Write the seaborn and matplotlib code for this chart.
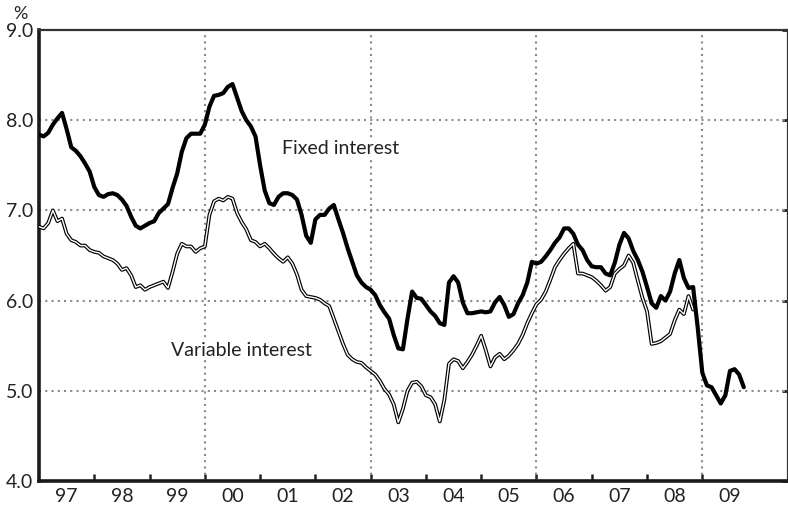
import numpy as np
import pandas as pd
import seaborn as sns
import matplotlib
matplotlib.use("Agg")
from matplotlib import pyplot as plt

# monthly rates, Jan 1997 onwards (%)
fixed_rate = [
    7.84, 7.82, 7.86, 7.95, 8.02, 8.08, 7.90, 7.70, 7.66, 7.60, 7.52, 7.43,   # 97
    7.26, 7.17, 7.15, 7.18, 7.19, 7.17, 7.12, 7.05, 6.93, 6.83, 6.80, 6.83,   # 98
    6.86, 6.88, 6.97, 7.02, 7.07, 7.25, 7.41, 7.65, 7.80, 7.85, 7.85, 7.85,   # 99
    7.95, 8.15, 8.27, 8.28, 8.30, 8.37, 8.40, 8.25, 8.10, 8.00, 7.93, 7.82,   # 00
    7.50, 7.22, 7.08, 7.06, 7.15, 7.19, 7.19, 7.17, 7.12, 6.95, 6.72, 6.64,   # 01
    6.90, 6.95, 6.95, 7.02, 7.06, 6.90, 6.75, 6.58, 6.43, 6.28, 6.20, 6.15,   # 02
    6.12, 6.06, 5.95, 5.87, 5.80, 5.62, 5.47, 5.46, 5.80, 6.10, 6.03, 6.02,   # 03
    5.95, 5.88, 5.83, 5.75, 5.73, 6.20, 6.27, 6.20, 5.98, 5.86, 5.86, 5.87,   # 04
    5.88, 5.87, 5.88, 5.98, 6.04, 5.95, 5.82, 5.85, 5.97, 6.06, 6.20, 6.43,   # 05
    6.41, 6.43, 6.49, 6.56, 6.64, 6.70, 6.80, 6.80, 6.74, 6.62, 6.56, 6.45,   # 06
    6.38, 6.37, 6.37, 6.30, 6.28, 6.42, 6.62, 6.75, 6.69, 6.55, 6.45, 6.32,   # 07
    6.15, 5.97, 5.92, 6.05, 6.00, 6.10, 6.30, 6.45, 6.25, 6.14, 6.15, 5.70,   # 08
    5.20, 5.06, 5.04, 4.95, 4.86, 4.95, 5.22, 5.24, 5.18, 5.04,               # 09
]

variable_rate = [
    6.82, 6.80, 6.86, 7.00, 6.88, 6.91, 6.74, 6.67, 6.65, 6.61, 6.61, 6.56,   # 97
    6.54, 6.53, 6.49, 6.47, 6.45, 6.41, 6.34, 6.36, 6.28, 6.15, 6.17, 6.12,   # 98
    6.15, 6.17, 6.19, 6.21, 6.14, 6.32, 6.52, 6.63, 6.60, 6.60, 6.54, 6.58,   # 99
    6.60, 6.95, 7.10, 7.13, 7.11, 7.15, 7.13, 6.97, 6.87, 6.79, 6.67, 6.65,   # 00
    6.60, 6.63, 6.58, 6.52, 6.47, 6.43, 6.48, 6.41, 6.29, 6.12, 6.05, 6.04,   # 01
    6.03, 6.01, 5.97, 5.94, 5.80, 5.66, 5.52, 5.40, 5.35, 5.32, 5.31, 5.26,   # 02
    5.22, 5.18, 5.11, 5.02, 4.96, 4.85, 4.65, 4.80, 5.00, 5.09, 5.10, 5.05,   # 03
    4.95, 4.93, 4.85, 4.66, 4.90, 5.30, 5.35, 5.33, 5.25, 5.32, 5.40, 5.50,   # 04
    5.61, 5.45, 5.27, 5.37, 5.41, 5.35, 5.39, 5.45, 5.52, 5.62, 5.75, 5.86,   # 05
    5.96, 6.01, 6.10, 6.23, 6.37, 6.45, 6.52, 6.58, 6.63, 6.30, 6.30, 6.28,   # 06
    6.26, 6.22, 6.17, 6.11, 6.15, 6.30, 6.35, 6.39, 6.50, 6.42, 6.22, 6.03,   # 07
    5.88, 5.52, 5.53, 5.55, 5.59, 5.63, 5.78, 5.90, 5.85, 6.05, 5.90,         # 08
]

year_labels = ["97", "98", "99", "00", "01", "02", "03", "04", "05", "06", "07", "08", "09"]
start_year = 1997

fixed_df = pd.DataFrame({"t": start_year + np.arange(len(fixed_rate)) / 12, "rate": fixed_rate})
var_df = pd.DataFrame({"t": start_year + np.arange(len(variable_rate)) / 12, "rate": variable_rate})

sns.set_theme(style="white")
plt.rcParams["font.family"] = ["Lato", "DejaVu Sans"]

fig = plt.figure(figsize=(7.88, 5.12), dpi=100)
ax = fig.add_axes([0.0495, 0.0605, 0.9505, 0.881])

# dotted gridlines
for yv in [5, 6, 7, 8]:
    ax.axhline(yv, color="#8a8a8a", lw=1.5, ls=(0, (1, 2)), zorder=1)
for xv in [2000, 2003, 2006, 2009]:
    ax.axvline(xv, color="#8a8a8a", lw=1.5, ls=(0, (1, 2)), zorder=1)

# variable: double line (black outline with white core)
sns.lineplot(data=var_df, x="t", y="rate", ax=ax, color="black", lw=2.7, zorder=3)
sns.lineplot(data=var_df, x="t", y="rate", ax=ax, color="white", lw=1.0, zorder=4)
sns.lineplot(data=fixed_df, x="t", y="rate", ax=ax, color="black", lw=3.0, zorder=5)

ax.set_xlim(1997, 2010.55)
ax.set_ylim(4, 9)
ax.set_xlabel("")
ax.set_ylabel("")

ax.set_xticks(np.arange(1998, 2010))
ax.set_xticklabels([])
ax.set_xticks(np.arange(len(year_labels)) + start_year + 0.5, minor=True)
ax.set_xticklabels(year_labels, minor=True)
ax.tick_params(axis="x", which="major", direction="in", length=5, width=1.8, color="#222222", bottom=True)
ax.tick_params(axis="x", which="minor", length=0, pad=5, labelsize=14, labelcolor="#222222")

ax.set_yticks([4, 5, 6, 7, 8, 9])
ax.set_yticklabels(["4.0", "5.0", "6.0", "7.0", "8.0", "9.0"])
ax.tick_params(axis="y", left=False, right=True, direction="in", length=4, width=2,
               color="#222222", labelsize=14, labelcolor="#222222", pad=4)

for side in ["left", "bottom"]:
    ax.spines[side].set_linewidth(2.6)
    ax.spines[side].set_color("#1a1a1a")
for side in ["top", "right"]:
    ax.spines[side].set_linewidth(1.6)
    ax.spines[side].set_color("#333333")

ax.text(2002.45, 7.69, "Fixed interest", ha="center", va="center", fontsize=14, color="#222222",
        bbox=dict(facecolor="white", edgecolor="none", pad=1), zorder=6)
ax.text(2000.66, 5.45, "Variable interest", ha="center", va="center", fontsize=14, color="#222222",
        bbox=dict(facecolor="white", edgecolor="none", pad=1), zorder=6)
fig.text(20 / 788, 1 - 14 / 512, "%", ha="center", va="center", fontsize=13, color="#222222")

fig.savefig("out.png", dpi=100)
